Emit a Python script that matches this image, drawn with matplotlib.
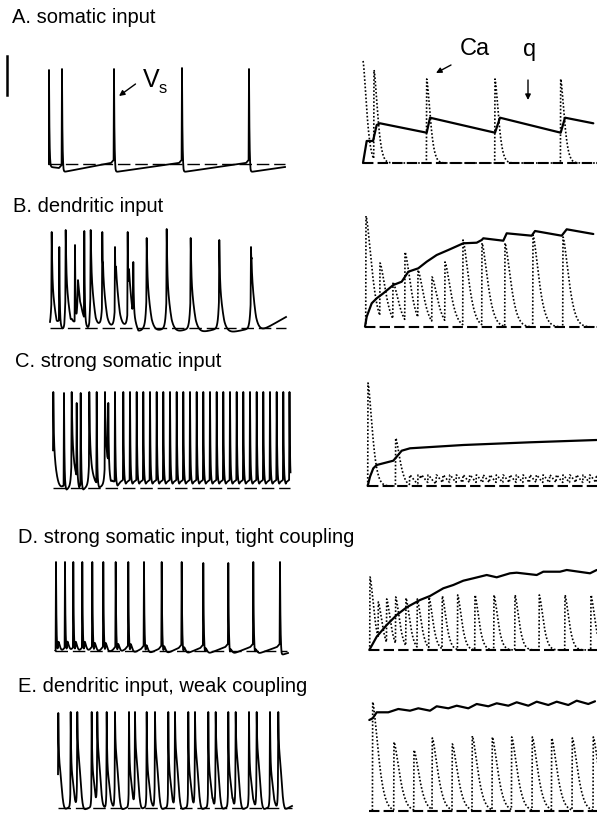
import numpy as np
import matplotlib
matplotlib.use('Agg')
import matplotlib.pyplot as plt

W, H = 597, 814

# ---------------- data (time in ms-like units, values relative to baseline) -------------
# Panel A: somatic input
A_spk_t = [1, 14, 66, 134, 201]
A_spk_v = [94, 95, 95, 96, 95]
A_ahp = [-3, -8, -8, -8, -8]
A_pre = [0, -1, 4, 4, 4]
A_ca_t = [2, 13, 65.7, 134, 199.7]
A_ca_v = [102, 93, 84, 84, 84]
A_q_t = [2, 5.7, 12, 15.7, 19, 65.7, 69, 134, 139, 199.7, 204, 232.3]
A_q_v = [0, 22, 22, 38, 39.7, 30.3, 45.3, 30.3, 45.3, 30.3, 45.3, 39.7]

# Panel B: dendritic input
B_spk_t = [3.7, 11.3, 17.7, 27, 36.3, 42.7, 54.3, 67, 79.7, 85.3, 98.7, 118.7, 142.7, 171.3, 203]
B_spk_v = [96, 81, 98, 83, 97, 98, 96, 81, 96, 66, 90, 99, 90, 88, 81]
B_sh_t = [4, 18, 30, 43, 55, 68, 81, 99, 119, 143, 171.5, 203.5]
B_sh_v = [45, 50, 50, 55, 50, 55, 55, 50, 48, 48, 45, 55]
B_ca_t = [5, 19, 32, 44, 57, 71, 84, 102, 121, 144, 172, 202]
B_ca_v = [111, 64, 45, 75, 57, 50, 65, 87, 84, 84, 92, 90]
B_q_t = [4, 5.7, 10.7, 15.7, 22.3, 32.3, 40.7, 47.3, 57.3, 65.7, 75.7, 87.3, 102.3,
         115.7, 120.7, 122.3, 142.3, 145.7, 170.7, 174, 200.7, 205.7, 232.3]
B_q_v = [0.3, 10.3, 23.7, 28.7, 33.7, 42, 45.3, 55.3, 58.7, 65.3, 72, 77, 83.7,
         84.3, 87, 88.7, 86.3, 93.7, 91.3, 96, 91.3, 97.7, 93]

# Panel C: strong somatic input
C_spk_t = [5.3, 16, 23.7, 28.7, 32.7, 41.3, 48.7, 57, 60.3, 67,
           75.3, 82.0, 88.7, 95.3, 102.0, 108.7, 115.3, 122.0, 128.7, 135.3,
           142.0, 148.7, 155.3, 162.0, 168.7, 175.3, 182.0, 188.7, 195.3, 202.0,
           208.7, 215.3, 222.0, 228.7, 235.3, 241.5]
C_spk_v = [96, 95, 96, 85, 95, 96, 96, 96, 85, 96] + [96] * 26
C_ahp = [-3, -2, -2, -2, -2, -2, 0, 0, 0, 2] + [4] * 26
C_pre = [0, 2, 2, 2, 2, 3, 3, 4, 4, 6] + [8] * 26
C_sh_t = [5.5, 24, 41.5, 57.5]
C_sh_v = [40, 45, 40, 45]
C_ca_t = [7, 34.7] + C_spk_t[6:]
C_ca_v = [103, 48] + [11] * 30
C_q_t = [6.7, 9, 12.3, 15.7, 32.3, 35.7, 40.7, 49, 102.3, 169, 235.7]
C_q_v = [0, 9.3, 17.7, 21, 25.3, 29.3, 35.3, 37.7, 41, 43.7, 46]

# Panel D: strong somatic input, tight coupling
D_spk_t = [8, 17, 25.3, 34.3, 44.3, 55.3, 67.7, 80.3, 96, 113.7, 133.7, 155.3, 180.3, 205.3, 232]
D_spk_v = [89, 89, 89, 89, 89, 89, 89, 89, 89, 89, 89, 88, 88, 89, 89]
D_ahp = [-4] * 15
D_pre = [0, 3, 3, 3, 4, 4, 4, 5, 5, 5, 6, 6, 7, 7, 7]
D_sh_t = [10.5, 19.5, 27.8, 36.8, 46.8, 57.8, 70.2, 82.8, 98.5, 116.2, 136.2, 157.8, 182.8, 207.8]
D_sh_v = [12, 12, 12, 12, 11, 11, 10, 10, 9, 8, 7, 6, 5, 5]
D_ca_t = [9, 17.3, 25.7, 34.7, 45, 56.3, 68, 81.3, 96.7, 114, 133, 154, 178.3, 204, 230]
D_ca_v = [73, 48, 51, 53, 52, 51, 53, 54, 55, 55, 55, 55, 55, 55, 55]
D_q_t = [8.3, 15.7, 25.7, 35.7, 45.7, 59, 69, 82.3, 92.3, 102.3, 112.3, 125.7, 135.7,
         149, 155.7, 175.7, 182.3, 199, 205.7, 229, 235.7]
D_q_v = [0, 13.3, 25, 35, 42.7, 50, 54, 61.7, 65, 69.3, 71.7, 75, 72.7,
         76.7, 77.3, 75, 78.3, 78.3, 80, 76.7, 80]

# Panel E: dendritic input, weak coupling
E_spk_t = [10.3, 22.7, 29.3, 43.7, 49.3, 58.7, 67, 81, 87, 98.7, 107, 120.3,
           127, 140.3, 147, 160.3, 167.7, 180.3, 187.7, 201, 208.7, 222, 230.3]
E_spk_v = [95, 96, 96, 96, 96, 96, 96, 96, 96, 96, 96, 96,
           96, 96, 96, 96, 96, 96, 96, 96, 96, 96, 96]
E_ahp = [-3] * 23
E_pre = [0] + [1] * 22
E_sh_t = E_spk_t
E_sh_v = [45, 35, 55, 35, 55, 35, 55, 35, 55, 35, 55, 35, 55, 35, 55, 35, 55, 35, 55, 35, 55, 35, 55]
E_ca_t = [11.7, 33, 53, 71.3, 91.3, 111.3, 131.3, 150.7, 171.3, 190.7, 211.3, 232.3]
E_ca_v = [109, 69, 61, 73, 67, 75, 74, 74, 74, 73, 73, 74]
E_q_t = [8.3, 11.7, 15.7, 27.3, 37.3, 49, 57.3, 69, 75.7, 87.3, 95.7, 107.3, 115.7,
         127.3, 135.7, 147.3, 155.7, 167.3, 175.7, 187.3, 195.7, 207.3, 215.7, 227.3, 234]
E_q_v = [91, 92.7, 98.7, 98.7, 102, 100.3, 102.7, 100.3, 104.7, 102.7, 105.3, 102.7, 107,
         104.7, 107.7, 105.3, 108.7, 105.3, 109.3, 106, 109.3, 106, 110.3, 107, 109.7]

labels = ["A. somatic input", "B. dendritic input", "C. strong somatic input",
          "D. strong somatic input, tight coupling", "E. dendritic input, weak coupling"]

# ---------------- trace builders ----------------
def soma_trace(spk_t, spk_v, ahp, pre, sh_t, sh_v, sh_par, t0, t_end, v_end,
               tdelay=1.5, upturn=3.0):
    spk_t = np.asarray(spk_t, float)
    t = np.union1d(np.arange(t0, t_end, 0.05), spk_t)
    t = np.union1d(t, [t_end])
    pts = [(t0, 0.0)]
    for i, ti in enumerate(spk_t):
        if i + 1 < len(spk_t):
            nxt = spk_t[i + 1]
        else:
            nxt = t_end + 10
        cand = [(ti - 3.0, pre[i] - upturn), (ti - 0.4, pre[i]),
                (min(ti + tdelay, nxt - 1.0), ahp[i])]
        for c in cand:
            if c[0] > pts[-1][0] + 0.2:
                pts.append(c)
    if t_end > pts[-1][0]:
        pts.append((t_end, v_end))
    px, py = zip(*pts)
    base = np.interp(t, px, py)
    tr, td, p = sh_par
    for tj, hj in zip(sh_t, sh_v):
        dt = t - tj
        k = np.where(dt < 0, np.exp(np.minimum(dt, 0) / tr),
                     np.exp(-(np.maximum(dt, 0) / td) ** p))
        base = base + hj * k
    v = base.copy()
    for ti, pk in zip(spk_t, spk_v):
        amp = pk - np.interp(ti, t, base)
        dt = t - ti
        k = np.where(dt < -0.4, 0.0,
                     np.where(dt <= 0, (dt + 0.4) / 0.4, np.exp(-np.maximum(dt, 0) / 0.45)))
        v = v + amp * k
    return t, v


def ca_trace(ca_t, ca_v, w, p, t0, t_end):
    t = np.union1d(np.arange(t0, t_end, 0.05), np.asarray(ca_t, float))
    c = np.zeros_like(t)
    for ti, hi in zip(ca_t, ca_v):
        dt = t - ti
        k = np.where(dt < -0.3, 0.0,
                     np.where(dt <= 0, (dt + 0.3) / 0.3, np.exp(-(np.maximum(dt, 0) / w) ** p)))
        c = np.maximum(c, hi * k)
    return t, c


# ---------------- figure ----------------
fig = plt.figure(figsize=(W / 100, H / 100), dpi=100)

def make_ax(x0, base):
    ax = fig.add_axes([x0 / W, (H - (base + 20)) / H, 250 / W, 150 / H])
    ax.set_xlim(0, 250)
    ax.set_ylim(-20, 130)
    ax.axis('off')
    return ax

left_base = [164, 328, 488, 651, 808]
right_base = [163, 327, 486, 650, 811]

soma_specs = [
    dict(spk_t=A_spk_t, spk_v=A_spk_v, ahp=A_ahp, pre=A_pre, sh_t=[], sh_v=[],
         sh_par=(1, 1, 1), t0=0, t_end=237, v_end=-3),
    dict(spk_t=B_spk_t, spk_v=B_spk_v, ahp=[-6] * len(B_spk_t), pre=[1] * len(B_spk_t),
         sh_t=B_sh_t, sh_v=B_sh_v, sh_par=(1.0, 4.0, 1.2), t0=2, t_end=238, v_end=11,
         tdelay=5.0, upturn=2.0),
    dict(spk_t=C_spk_t, spk_v=C_spk_v, ahp=C_ahp, pre=C_pre, sh_t=C_sh_t, sh_v=C_sh_v,
         sh_par=(0.8, 3.5, 1.5), t0=5, t_end=242.5, v_end=5, tdelay=2.5, upturn=2.0),
    dict(spk_t=D_spk_t, spk_v=D_spk_v, ahp=D_ahp, pre=D_pre, sh_t=D_sh_t, sh_v=D_sh_v,
         sh_par=(0.8, 2.0, 1.5), t0=7.5, t_end=240, v_end=-2),
    dict(spk_t=E_spk_t, spk_v=E_spk_v, ahp=E_ahp, pre=E_pre, sh_t=E_sh_t, sh_v=E_sh_v,
         sh_par=(0.4, 4.0, 2.5), t0=10, t_end=244, v_end=2, tdelay=4.0, upturn=1.0),
]
left_dash = [(0, 237), (2, 238), (5, 242), (7, 239), (10, 244)]

ca_specs = [(A_ca_t, A_ca_v, 5.0, 1.5, 2), (B_ca_t, B_ca_v, 8.0, 1.5, 4),
            (C_ca_t, C_ca_v, 6.0, 1.5, 6.7), (D_ca_t, D_ca_v, 5.5, 1.5, 8.3),
            (E_ca_t, E_ca_v, 7.7, 1.5, 8.3)]
q_specs = [(A_q_t, A_q_v), (B_q_t, B_q_v), (C_q_t, C_q_v), (D_q_t, D_q_v), (E_q_t, E_q_v)]

for r in range(5):
    axl = make_ax(48, left_base[r])
    d0, d1 = left_dash[r]
    axl.plot([d0, d1], [0, 0], color='k', lw=1.0, ls=(0, (9, 3.5)))
    t, v = soma_trace(**soma_specs[r])
    axl.plot(t, v, color='k', lw=1.3, solid_joinstyle='round')

    axr = make_ax(361, right_base[r])
    ct, cv, w, p, t0 = ca_specs[r]
    axr.plot([t0, 245], [0, 0], color='k', lw=1.5, ls=(0, (5, 2)))
    tt, cc = ca_trace(ct, cv, w, p, t0, 245)
    axr.plot(tt, cc, color='k', lw=1.2, ls=(0, (1, 1.2)))
    qt, qv = q_specs[r]
    axr.plot(qt, qv, color='k', lw=1.6, solid_joinstyle='round', solid_capstyle='round')

# ---------------- overlay for labels / annotations (pixel coordinates) ----------------
ov = fig.add_axes([0, 0, 1, 1])
ov.set_xlim(0, W)
ov.set_ylim(H, 0)
ov.axis('off')
ov.patch.set_alpha(0)

FONT = 'Liberation Sans'
label_pos = [(12, 23), (13, 212), (15, 367), (18, 543), (18, 692)]
for (x, y), s in zip(label_pos, labels):
    ov.text(x, y, s, fontsize=14.5, family=FONT, ha='left', va='baseline')

ov.plot([7, 7], [56, 95], color='k', lw=1.8)
ov.text(143, 87, 'V', fontsize=18, family=FONT, va='baseline')
ov.text(159, 93, 's', fontsize=12, family=FONT, va='baseline')
ov.text(460, 55, 'Ca', fontsize=17, family=FONT, va='baseline')
ov.text(523, 56, 'q', fontsize=17, family=FONT, va='baseline')
ap = dict(arrowstyle='-|>', lw=1.0, color='k', mutation_scale=8, shrinkA=0, shrinkB=0)
ov.annotate('', xy=(119, 96), xytext=(135.5, 84), arrowprops=ap)
ov.annotate('', xy=(436, 73), xytext=(451, 65), arrowprops=ap)
ov.annotate('', xy=(528, 100), xytext=(528, 80), arrowprops=ap)

fig.savefig('out.png', dpi=100)
